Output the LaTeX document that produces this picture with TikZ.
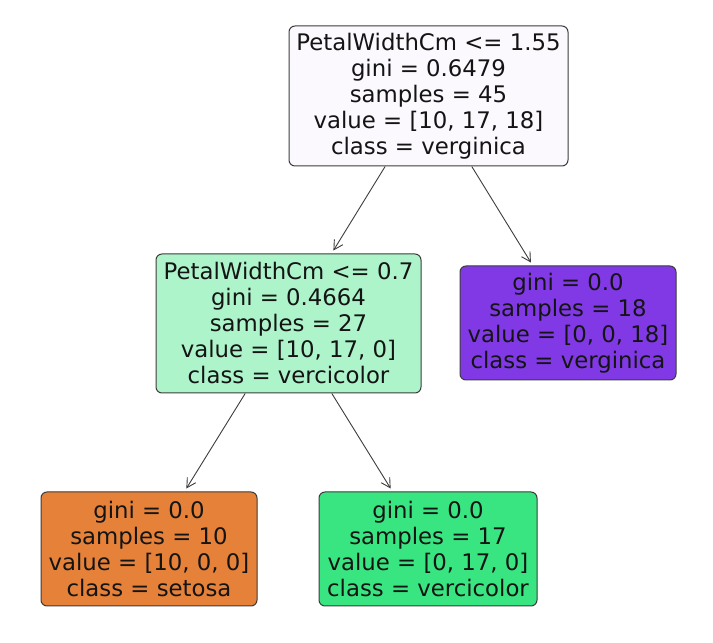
\documentclass[tikz,border=0pt]{standalone}
\usepackage{fontspec}
\setmainfont{DejaVu Sans}
\usetikzlibrary{arrows.meta}
\definecolor{rootc}{RGB}{251,248,254}
\definecolor{leftc}{RGB}{174,244,203}
\definecolor{orangec}{RGB}{229,129,57}
\definecolor{greenc}{RGB}{57,229,129}
\definecolor{purplec}{RGB}{129,57,229}
\definecolor{edgec}{RGB}{60,60,60}
\definecolor{txtc}{RGB}{20,20,20}
\tikzset{
  treenode/.style={draw=edgec, line width=1pt, rounded corners=6pt, align=center,
    inner sep=0pt, text=txtc, font=\fontsize{22.8}{26}\selectfont},
  treeedge/.style={draw=edgec, line width=0.9pt, -{Straight Barb[length=9pt,width=10pt]},
    shorten >=3.5pt}
}
\begin{document}
\begin{tikzpicture}[x=1pt,y=1pt]
\useasboundingbox (0,0) rectangle (713,643);
\node[treenode, fill=rootc, minimum width=279pt, minimum height=140pt] (root) at (428.5,547)
  {PetalWidthCm <= 1.55\\gini = 0.6479\\samples = 45\\value = [10, 17, 18]\\class = verginica};
\node[treenode, fill=leftc, minimum width=265pt, minimum height=139pt] (left) at (288.5,319.5)
  {PetalWidthCm <= 0.7\\gini = 0.4664\\samples = 27\\value = [10, 17, 0]\\class = vercicolor};
\node[treenode, fill=purplec, minimum width=216pt, minimum height=114pt] (right) at (568,320)
  {gini = 0.0\\samples = 18\\value = [0, 0, 18]\\class = verginica};
\node[treenode, fill=orangec, minimum width=216pt, minimum height=114pt] (ll) at (149,94)
  {gini = 0.0\\samples = 10\\value = [10, 0, 0]\\class = setosa};
\node[treenode, fill=greenc, minimum width=218pt, minimum height=114pt] (lr) at (428,94)
  {gini = 0.0\\samples = 17\\value = [0, 17, 0]\\class = vercicolor};
\draw[treeedge] (root) -- (left);
\draw[treeedge] (root) -- (right);
\draw[treeedge] (left) -- (ll);
\draw[treeedge] (left) -- (lr);
\end{tikzpicture}
\end{document}
